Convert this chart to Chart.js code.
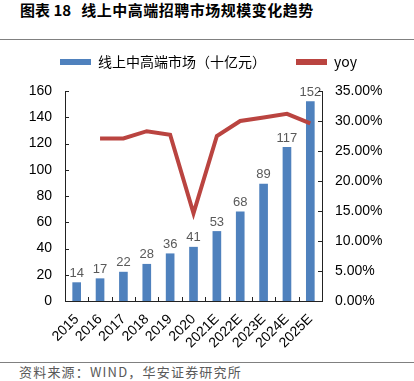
<!DOCTYPE html>
<html lang="zh">
<head>
<meta charset="UTF-8">
<title>线上中高端招聘市场规模变化趋势</title>
<script src="https://cdn.jsdelivr.net/npm/chart.js"></script>
<style>
  html, body { margin: 0; padding: 0; background: #fff; }
  body { width: 414px; height: 381px; position: relative; overflow: hidden; font-family: "Liberation Sans", Arial, sans-serif; }
  #title { position: absolute; left: 20px; top: 0px; font-family: "Noto Sans CJK SC", sans-serif; font-weight: bold; font-size: 15px; color: #000; white-space: nowrap; line-height: 19px; }
  #title .t2 { letter-spacing: 0.5px; }
  .rule { position: absolute; left: 0; width: 414px; height: 1px; background: #808080; }
  #footer { position: absolute; left: 19px; top: 364px; font-family: "Noto Sans CJK SC", sans-serif; font-size: 13px; letter-spacing: 1.2px; color: #595959; white-space: nowrap; line-height: 16px; }
  #wrap { position: absolute; left: 0; top: 20px; width: 414px; height: 336px; }
</style>
</head>
<body>
<div id="title">图表 18&nbsp;&nbsp;&nbsp;<span class="t2">线上中高端招聘市场规模变化趋势</span></div>
<div class="rule" style="top:39px"></div>
<div id="wrap"><canvas id="chart" width="414" height="336"></canvas></div>
<div class="rule" style="top:362px"></div>
<div id="footer">资料来源：WIND，华安证券研究所</div>

<script>
// 数据
const years = ['2015', '2016', '2017', '2018', '2019', '2020', '2021E', '2022E', '2023E', '2024E', '2025E'];
const marketSize = [14, 17, 22, 28, 36, 41, 53, 68, 89, 117, 152];          // 十亿元
const yoy = [null, 27.1, 27.1, 28.3, 27.7, 14.6, 27.5, 30.0, 30.6, 31.2, 29.6]; // %

const barColor = '#4F81BD';
const lineColor = '#BA4440';
const axisColor = '#222222';

// 图例下方留出空隙
const legendGap = {
    id: 'legendGap',
    beforeLayout(chart) {
        const lg = chart.legend;
        if (lg && !lg._gapPatched) {
            const fit = lg.fit;
            lg.fit = function () {
                fit.call(this);
                this.height += 12;
            };
            lg._gapPatched = true;
        }
    }
};

// 柱顶数值
const barLabels = {
    id: 'barLabels',
    afterDatasetsDraw(chart) {
        const ctx = chart.ctx;
        const meta = chart.getDatasetMeta(0);
        ctx.save();
        ctx.font = '13px "Liberation Sans", Arial, sans-serif';
        ctx.fillStyle = '#595959';
        ctx.textAlign = 'center';
        ctx.textBaseline = 'bottom';
        meta.data.forEach((bar, i) => {
            ctx.fillText(marketSize[i], bar.x, bar.y - 3);
        });
        ctx.restore();
    }
};

// 向内的刻度线
const innerTicks = {
    id: 'innerTicks',
    afterDraw(chart) {
        const ctx = chart.ctx;
        const area = chart.chartArea;
        const y = chart.scales.y, y1 = chart.scales.y1;
        ctx.save();
        ctx.strokeStyle = axisColor;
        ctx.lineWidth = 1;
        ctx.beginPath();
        y.ticks.forEach((t, i) => {
            const py = Math.round(y.getPixelForTick(i)) + 0.5;
            ctx.moveTo(area.left, py);
            ctx.lineTo(area.left + 4, py);
        });
        y1.ticks.forEach((t, i) => {
            const py = Math.round(y1.getPixelForTick(i)) + 0.5;
            ctx.moveTo(area.right, py);
            ctx.lineTo(area.right - 4, py);
        });
        const n = years.length;
        const step = (area.right - area.left) / n;
        for (let i = 1; i < n; i++) {
            const px = Math.round(area.left + i * step) + 0.5;
            ctx.moveTo(px, area.bottom);
            ctx.lineTo(px, area.bottom - 4);
        }
        ctx.stroke();
        ctx.restore();
    }
};

new Chart(document.getElementById('chart'), {
    type: 'bar',
    data: {
        labels: years,
        datasets: [
            {
                label: '线上中高端市场（十亿元）',
                data: marketSize,
                backgroundColor: barColor,
                barThickness: 8,
                yAxisID: 'y',
                order: 1
            },
            {
                type: 'line',
                label: 'yoy',
                data: yoy,
                borderColor: lineColor,
                backgroundColor: lineColor,
                borderWidth: 4,
                pointRadius: 0,
                tension: 0,
                yAxisID: 'y1',
                order: 0
            }
        ]
    },
    options: {
        responsive: false,
        animation: false,
        layout: { padding: { top: 5, left: 3, right: 0, bottom: 0 } },
        plugins: {
            legend: {
                position: 'top',
                labels: {
                    boxWidth: 31,
                    boxHeight: 6,
                    padding: 30,
                    color: '#404040',
                    font: { family: '"Noto Sans CJK SC", sans-serif', size: 14 },
                    sort: (a, b) => a.datasetIndex - b.datasetIndex,
                    generateLabels(chart) {
                        return chart.data.datasets.map((ds, i) => ({
                            text: ds.label,
                            fillStyle: ds.type === 'line' ? ds.borderColor : ds.backgroundColor,
                            strokeStyle: 'transparent',
                            lineWidth: 0,
                            datasetIndex: i,
                            hidden: false
                        }));
                    }
                }
            },
            tooltip: { enabled: false }
        },
        scales: {
            x: {
                grid: { display: false, drawTicks: false },
                border: { display: true, color: axisColor, width: 1 },
                ticks: {
                    color: '#000',
                    autoSkip: false,
                    maxRotation: 45,
                    minRotation: 45,
                    padding: 10,
                    font: { family: '"Liberation Sans", Arial, sans-serif', size: 14 }
                },
                afterFit(scale) { scale.height = 55; }
            },
            y: {
                position: 'left',
                min: 0,
                max: 160,
                grid: { display: false, drawTicks: false },
                border: { display: true, color: axisColor, width: 1 },
                ticks: {
                    stepSize: 20,
                    color: '#000',
                    padding: 13,
                    font: { family: '"Liberation Sans", Arial, sans-serif', size: 14 }
                },
                afterFit(scale) { scale.width = 62; }
            },
            y1: {
                position: 'right',
                min: 0,
                max: 35,
                grid: { display: false, drawTicks: false },
                border: { display: true, color: axisColor, width: 1 },
                ticks: {
                    stepSize: 5,
                    color: '#000',
                    padding: 13,
                    font: { family: '"Liberation Sans", Arial, sans-serif', size: 14 },
                    callback: v => v.toFixed(2) + '%'
                },
                afterFit(scale) { scale.width = 92; }
            }
        }
    },
    plugins: [legendGap, barLabels, innerTicks]
});
</script>
</body>
</html>
